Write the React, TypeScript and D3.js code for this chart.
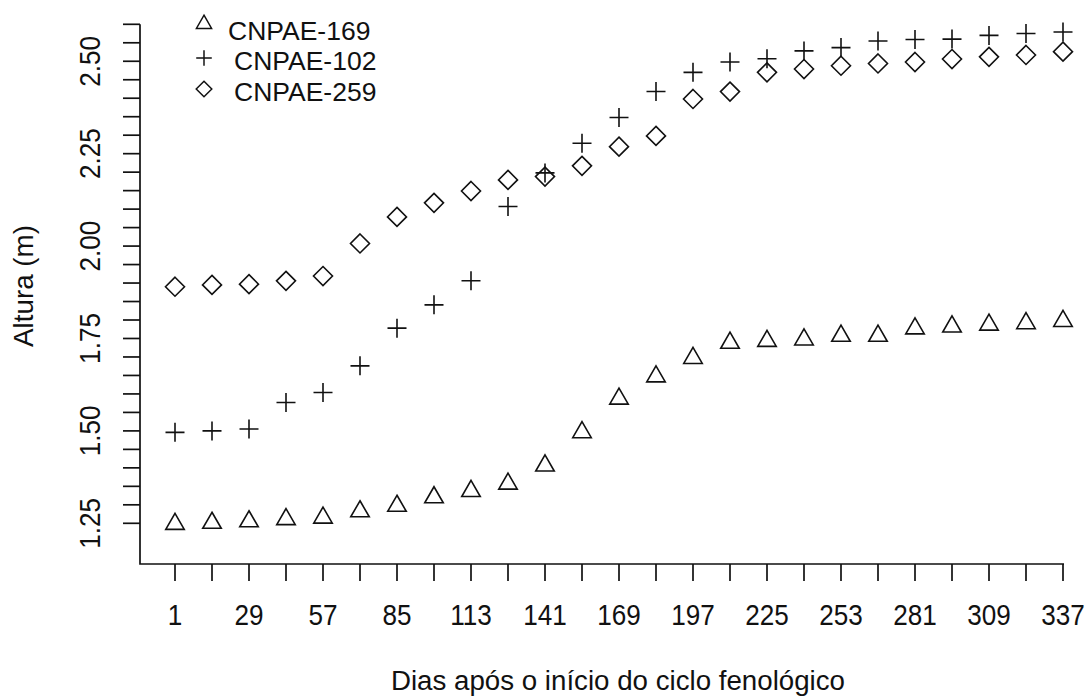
import React from "react";
import * as d3 from "d3";

const days = [1, 15, 29, 43, 57, 71, 85, 99, 113, 127, 141, 155, 169, 183, 197, 211, 225, 239, 253, 267, 281, 295, 309, 323, 337];
const cnpae169 = [1.248, 1.251, 1.255, 1.261, 1.265, 1.282, 1.297, 1.32, 1.337, 1.357, 1.406, 1.496, 1.587, 1.647, 1.697, 1.738, 1.743, 1.747, 1.757, 1.757, 1.777, 1.782, 1.787, 1.791, 1.797];
const cnpae102 = [1.496, 1.5, 1.505, 1.577, 1.604, 1.676, 1.778, 1.841, 1.906, 2.107, 2.198, 2.278, 2.348, 2.418, 2.47, 2.498, 2.507, 2.528, 2.537, 2.555, 2.559, 2.56, 2.57, 2.575, 2.579];
const cnpae259 = [1.89, 1.895, 1.897, 1.906, 1.919, 2.007, 2.079, 2.117, 2.149, 2.179, 2.188, 2.217, 2.269, 2.298, 2.398, 2.418, 2.47, 2.479, 2.488, 2.494, 2.498, 2.506, 2.512, 2.517, 2.526];
const seriesNames = ["CNPAE-169", "CNPAE-102", "CNPAE-259"];
const yMinorTicks = [1.25, 1.3, 1.35, 1.4, 1.45, 1.5, 1.55, 1.6, 1.65, 1.7, 1.75, 1.8, 1.85, 1.9, 1.95, 2.0, 2.05, 2.1, 2.15, 2.2, 2.25, 2.3, 2.35, 2.4, 2.45, 2.5, 2.55, 2.6];
const yLabelTicks = [1.25, 1.5, 1.75, 2.0, 2.25, 2.5];
const xLabel = "Dias após o início do ciclo fenológico";
const yLabel = "Altura (m)";

const W = 1087;
const H = 697;
const FONT = "'Liberation Sans', Arial, sans-serif";
const INK = "#111";

const triPath = "M0,-10.7 L9.25,5.35 L-9.25,5.35 Z";
const plusPath = "M-9.5,0 H9.5 M0,-9.5 V9.5";
const diamondPath = "M0,-9.5 L9.5,0 L0,9.5 L-9.5,0 Z";
const shapes = [triPath, plusPath, diamondPath];

export default function App() {
  const x = d3.scaleLinear().domain([days[0], days[days.length - 1]]).range([175, 1063]);
  const y = d3.scaleLinear().domain([1.25, 2.6]).range([523.3, 24.3]);
  const left = 140;
  const bottom = 564;
  const series = [cnpae169, cnpae102, cnpae259];

  return (
    <svg width={W} height={H} style={{ position: "absolute", left: 0, top: 0, background: "#fff" }}>
      <rect x={0} y={0} width={W} height={H} fill="#fff" />
      {/* L-shaped box */}
      <path d={`M${left},24.3 V${bottom} H1064`} fill="none" stroke={INK} strokeWidth={1.7} />
      {/* y ticks */}
      {yMinorTicks.map((t) => (
        <line key={"yt" + t} x1={left - 17} x2={left} y1={y(t)} y2={y(t)} stroke={INK} strokeWidth={1.7} />
      ))}
      {yLabelTicks.map((t) => (
        <text
          key={"yl" + t}
          transform={`translate(100,${y(t)}) rotate(-90) scale(0.9,1)`}
          textAnchor="middle"
          fontFamily={FONT}
          fontSize={29}
          fill={INK}
        >
          {d3.format(".2f")(t)}
        </text>
      ))}
      {/* x ticks */}
      {days.map((d, i) => (
        <g key={"xt" + d}>
          <line x1={x(d)} x2={x(d)} y1={bottom} y2={bottom + 17} stroke={INK} strokeWidth={1.7} />
          {i % 2 === 0 && (
            <text
              transform={`translate(${x(d)},625) scale(0.9,1)`}
              textAnchor="middle"
              fontFamily={FONT}
              fontSize={29}
              fill={INK}
            >
              {d}
            </text>
          )}
        </g>
      ))}
      {/* axis titles */}
      <text x={618} y={690} textAnchor="middle" fontFamily={FONT} fontSize={27.7} fill={INK}>
        {xLabel}
      </text>
      <text transform={`translate(33,286) rotate(-90)`} textAnchor="middle" fontFamily={FONT} fontSize={27.8} fill={INK}>
        {yLabel}
      </text>
      {/* points */}
      {series.map((vals, s) => (
        <g key={"s" + s}>
          {vals.map((v, i) => (
            <path
              key={i}
              d={shapes[s]}
              transform={`translate(${x(days[i])},${y(v)})`}
              fill="none"
              stroke={INK}
              strokeWidth={1.6}
            />
          ))}
        </g>
      ))}
      {/* legend */}
      {seriesNames.map((name, i) => (
        <g key={"lg" + name}>
          <path
            d={shapes[i]}
            transform={`translate(204,${[24, 58, 89][i]}) scale(0.82)`}
            fill="none"
            stroke={INK}
            strokeWidth={1.8}
          />
          <text x={[228, 234, 234][i]} y={[39.5, 70, 100.5][i]} fontFamily={FONT} fontSize={26.5} fill={INK}>
            {name}
          </text>
        </g>
      ))}
    </svg>
  );
}
